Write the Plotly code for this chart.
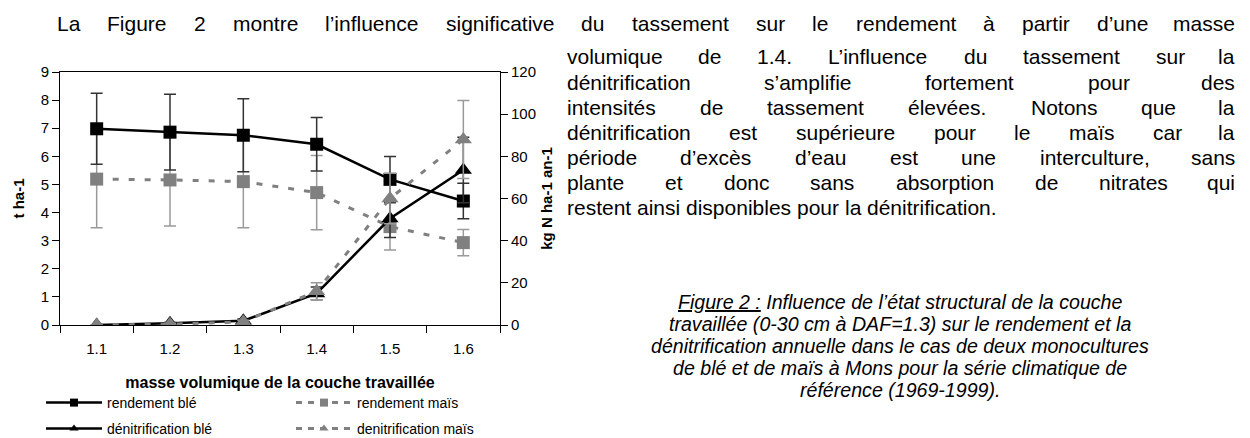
import plotly.graph_objects as go

# ---- data -------------------------------------------------------------
masse = ["1.1", "1.2", "1.3", "1.4", "1.5", "1.6"]

rdt_ble = [6.98, 6.86, 6.75, 6.43, 5.18, 4.41]
rdt_ble_err = [1.26, 1.35, 1.30, 0.95, 0.81, 0.63]
rdt_mais = [5.19, 5.16, 5.10, 4.71, 3.50, 2.93]
rdt_mais_err = [1.73, 1.64, 1.64, 1.32, 0.83, 0.47]

denit_ble = [0.0, 0.8, 2.0, 15.0, 50.5, 73.5]
denit_ble_err = [0.0, 0.4, 0.8, 3.0, 9.0, 15.5]
denit_mais = [0.0, 0.4, 1.5, 16.0, 60.0, 88.0]
denit_mais_err = [0.0, 0.4, 0.8, 4.0, 12.0, 18.5]

y_ticks = [0, 1, 2, 3, 4, 5, 6, 7, 8, 9]
y2_ticks = [0, 20, 40, 60, 80, 100, 120]

paragraph_first = ("La Figure 2 montre l\u2019influence significative du tassement "
                   "sur le rendement \u00e0 partir d\u2019une masse")
paragraph_col = [
    "volumique de 1.4. L\u2019influence du tassement sur la",
    "d\u00e9nitrification s\u2019amplifie fortement pour des",
    "intensit\u00e9s de tassement \u00e9lev\u00e9es. Notons que la",
    "d\u00e9nitrification est sup\u00e9rieure pour le ma\u00efs car la",
    "p\u00e9riode d\u2019exc\u00e8s d\u2019eau est une interculture, sans",
    "plante et donc sans absorption de nitrates qui",
    "restent ainsi disponibles pour la d\u00e9nitrification.",
]
caption = [
    "<u>Figure 2 :</u> Influence de l\u2019\u00e9tat structural de la couche",
    "travaill\u00e9e (0-30 cm \u00e0 DAF=1.3) sur le rendement et la",
    "d\u00e9nitrification annuelle dans le cas de deux monocultures",
    "de bl\u00e9 et de ma\u00efs \u00e0 Mons pour la s\u00e9rie climatique de",
    "r\u00e9f\u00e9rence (1969-1999).",
]

# ---- page geometry ----------------------------------------------------
W, H = 1250, 438
ML, MR, MT, MB = 60, 750, 72, 113
PW, PH = W - ML - MR, H - MT - MB
FONT = "Liberation Sans, Arial, Helvetica, sans-serif"
BLACK, GREY, GREY_BAR = "#000000", "#808080", "#9a9a9a"


def px(x):
    return (x - ML) / PW


def py(y):
    return (H - MB - y) / PH


# Arial / Liberation Sans advance widths (1/1000 em) used to justify the text
ADV = {" ": 278, "'": 191, "\u2019": 222, "(": 333, ")": 333, ",": 278, "-": 333,
       ".": 278, ":": 278, "=": 584}
for c in "0123456789":
    ADV[c] = 556
ADV.update(dict(zip("ABCDEFGHIJKLMNOPQRSTUVWXYZ",
                    [667, 667, 722, 722, 667, 611, 778, 722, 278, 500, 667, 556, 833,
                     722, 778, 667, 778, 722, 667, 611, 722, 667, 944, 667, 667, 611])))
ADV.update(dict(zip("abcdefghijklmnopqrstuvwxyz",
                    [556, 556, 500, 556, 556, 278, 556, 556, 222, 222, 500, 222, 833,
                     556, 556, 556, 556, 333, 500, 278, 556, 500, 722, 500, 500, 500])))
ADV.update({"\u00e0": 556, "\u00e9": 556, "\u00e8": 556, "\u00ea": 556, "\u00ef": 278,
            "\u00e7": 500})


def text_w(s, size):
    return sum(ADV.get(c, 556) for c in s) * size / 1000.0


annotations = []


def word(text, x, y, size, anchor="left"):
    annotations.append(dict(
        text=text, x=px(x), y=py(y), xref="paper", yref="paper",
        xanchor=anchor, yanchor="middle", showarrow=False, borderpad=0,
        font=dict(family=FONT, size=size, color=BLACK)))


def text_line(line, y, x0, x1, size, justify=True):
    words = line.split(" ")
    widths = [text_w(w, size) for w in words]
    if justify and len(words) > 1:
        gap = (x1 - x0 - sum(widths)) / (len(words) - 1)
    else:
        gap = text_w(" ", size)
    x = x0
    for k, (w, wd) in enumerate(zip(words, widths)):
        if justify and k == len(words) - 1:
            word(w, x1, y, size, anchor="right")
        else:
            word(w, x, y, size)
        x += wd + gap


P_SIZE = 21
C_SIZE = 19.6
text_line(paragraph_first, 23, 56, 1236, P_SIZE)
COL_L, COL_R = 566, 1236
for i, line in enumerate(paragraph_col):
    text_line(line, 57 + i * 25, COL_L, COL_R, P_SIZE,
              justify=(i < len(paragraph_col) - 1))

for i, line in enumerate(caption):
    annotations.append(dict(
        text="<i>" + line + "</i>", x=px(900), y=py(302 + i * 22),
        xref="paper", yref="paper", xanchor="center", yanchor="middle",
        showarrow=False, borderpad=0,
        font=dict(family=FONT, size=C_SIZE, color=BLACK)))

# ---- traces -----------------------------------------------------------
fig = go.Figure()

fig.add_trace(go.Scatter(
    x=masse, y=rdt_mais, mode="lines+markers", showlegend=False,
    line=dict(color=GREY, width=3, dash="6px,10px"),
    marker=dict(symbol="square", size=13, color=GREY),
    error_y=dict(type="data", array=rdt_mais_err, color=GREY_BAR, thickness=1.5, width=6)))
fig.add_trace(go.Scatter(
    x=masse, y=rdt_ble, mode="lines+markers", showlegend=False,
    line=dict(color=BLACK, width=2.5),
    marker=dict(symbol="square", size=13, color=BLACK),
    error_y=dict(type="data", array=rdt_ble_err, color="#333333", thickness=1.5, width=6)))
fig.add_trace(go.Scatter(
    x=masse, y=denit_ble, yaxis="y2", mode="lines+markers", showlegend=False,
    line=dict(color=BLACK, width=2.5),
    marker=dict(symbol="triangle-up", size=15, color=BLACK),
    error_y=dict(type="data", array=denit_ble_err, color="#333333", thickness=1.5, width=6)))
fig.add_trace(go.Scatter(
    x=masse, y=denit_mais, yaxis="y2", mode="lines+markers", showlegend=False,
    line=dict(color=GREY, width=3, dash="6px,10px"),
    marker=dict(symbol="triangle-up", size=15, color=GREY),
    error_y=dict(type="data", array=denit_mais_err, color=GREY_BAR, thickness=1.5, width=6)))

# legend entries (small swatch markers)
legend_items = [
    ("rendement bl\u00e9", BLACK, "solid", "square", "legend"),
    ("rendement ma\u00efs", GREY, "6px,6px", "square", "legend"),
    ("d\u00e9nitrification bl\u00e9", BLACK, "solid", "triangle-up", "legend2"),
    ("denitrification ma\u00efs", GREY, "6px,6px", "triangle-up", "legend2"),
]
for name, col, dash, sym, lg in legend_items:
    fig.add_trace(go.Scatter(
        x=[None], y=[None], name=name, mode="lines+markers", legend=lg,
        line=dict(color=col, width=2.5 if col == BLACK else 3, dash=dash),
        marker=dict(symbol=sym, size=8, color=col)))

axis_common = dict(showline=True, linecolor=BLACK, linewidth=1, ticks="outside",
                   tickcolor=BLACK, ticklen=7, showgrid=False, zeroline=False,
                   tickfont=dict(family=FONT, size=15, color=BLACK))
legend_common = dict(orientation="h", xref="paper", yref="paper", xanchor="left",
                     yanchor="middle", itemwidth=56, entrywidth=179,
                     bgcolor="rgba(0,0,0,0)", font=dict(family=FONT, size=14, color=BLACK),
                     traceorder="normal")

fig.update_layout(
    width=W, height=H, margin=dict(l=ML, r=MR, t=MT, b=MB, autoexpand=False),
    paper_bgcolor="white", plot_bgcolor="white", font=dict(family=FONT, color=BLACK),
    xaxis=dict(type="category", range=[-0.5, 5.5], tickson="boundaries", mirror=True,
               ticklabelstandoff=10,
               title=dict(text="<b>masse volumique de la couche travaill\u00e9e</b>",
                          font=dict(family=FONT, size=16, color=BLACK), standoff=20),
               **axis_common),
    yaxis=dict(range=[0, 9], tickvals=y_ticks, mirror=True,
               title=dict(text="<b>t ha-1</b>", font=dict(family=FONT, size=15, color=BLACK),
                          standoff=12),
               **axis_common),
    yaxis2=dict(range=[0, 120], tickvals=y2_ticks, overlaying="y", side="right",
                title=dict(text="<b>kg N ha-1 an-1</b>",
                           font=dict(family=FONT, size=15, color=BLACK), standoff=6),
                **axis_common),
    legend=dict(x=px(41), y=py(403), **legend_common),
    legend2=dict(x=px(41), y=py(429), **legend_common),
    annotations=annotations,
)

fig.write_html("out.html")
